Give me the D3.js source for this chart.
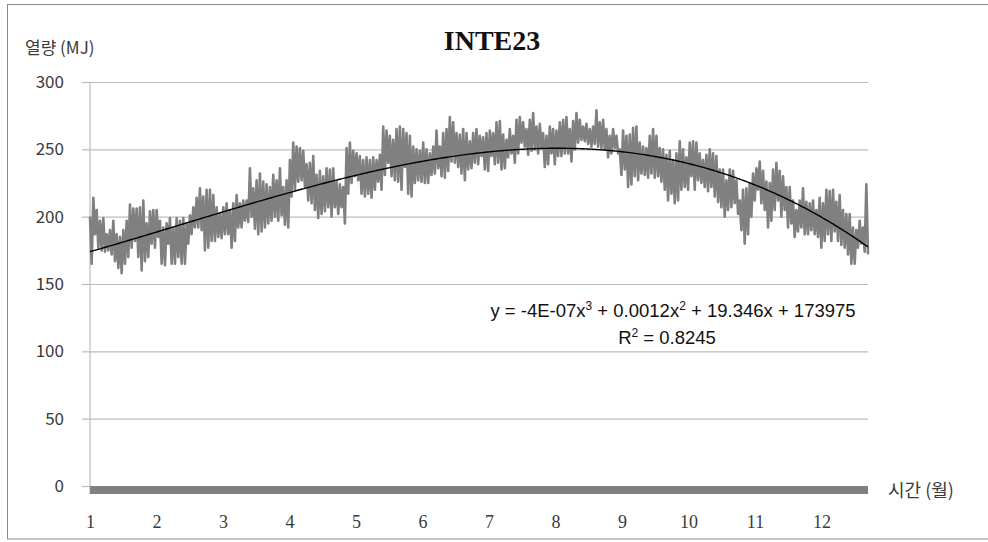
<!DOCTYPE html>
<html>
<head>
<meta charset="utf-8">
<script src="https://cdn.jsdelivr.net/npm/d3@7"></script>
<style>
  html, body { margin: 0; padding: 0; background: #fff; }
  svg { display: block; }
</style>
</head>
<body>
<svg id="chart" width="988" height="542"></svg>
<script>
// ---- chart text ----
const chartTitle = "INTE23";
const yAxisTitle = "열량 (MJ)";
const xAxisTitle = "시간 (월)";

// ---- axes ----
const monthLabels = [1, 2, 3, 4, 5, 6, 7, 8, 9, 10, 11, 12];
const yTickValues = [0, 50, 100, 150, 200, 250, 300];
const hoursPerMonth = 730;     // one month label every 730 hourly records
const spanHours = 8540;        // length of the hourly record

// ---- hourly heat (MJ): successive peak / trough pairs along the year ----
const heatHigh = [
  200,214,205,197,199,187,190,197,187,185,190,197,209,206,206,207,212,195,204,205,
  205,197,192,195,199,192,199,197,199,195,201,207,214,221,215,220,220,216,207,202,
  207,210,205,210,216,210,212,
  212,236,221,227,232,226,224,222,231,227,236,222,227,242,255,252,251,249,239,240,
  245,231,234,230,236,235,236,226,224,222,251,255,249,247,245,242,244,242,244,242,
  246,267,264,260,257,265,267,265,
  262,260,252,250,249,255,250,247,252,264,252,262,265,274,270,262,261,265,262,256,
  262,265,260,259,262,264,262,270,271,261,257,265,260,272,274,270,265,272,277,267,
  269,262,260,267,265,264,270,272,
  274,265,271,277,272,267,269,265,267,279,270,272,265,260,265,260,250,264,260,261,
  266,267,255,252,251,260,265,260,251,250,246,249,242,247,256,250,244,255,256,255,
  247,242,246,250,247,245,235,235,
  227,235,234,227,212,220,221,225,232,236,241,234,226,225,235,240,234,230,222,222,
  212,205,212,221,211,210,212,205,214,210,220,219,220,211,216,205,202,202,192,190,
  197,192,224
];
const heatLow = [
  165,187,177,175,174,175,172,167,162,158,165,170,177,182,170,160,167,170,180,177,
  185,165,164,180,165,165,170,165,165,180,187,192,192,190,175,177,182,182,185,184,
  187,187,177,182,192,192,197,
  196,200,191,187,189,192,195,197,200,197,201,194,192,215,220,226,227,222,212,210,
  205,199,202,204,207,200,207,202,207,195,217,225,230,227,217,215,217,214,220,226,
  220,231,240,230,227,226,220,237,
  217,215,225,227,226,225,225,231,232,236,230,229,234,241,240,237,232,227,235,236,
  240,239,245,235,234,245,239,240,235,236,244,247,240,247,255,252,246,249,250,247,
  251,237,239,247,239,245,245,247,
  247,241,250,255,257,256,254,252,254,252,251,250,244,247,251,247,231,235,222,224,
  230,227,232,231,229,232,229,230,226,220,212,217,210,212,220,222,220,230,220,227,
  225,222,219,222,215,211,207,200,
  205,207,210,202,190,180,187,200,212,220,210,205,192,197,205,212,200,205,192,195,
  185,189,192,187,187,190,187,185,177,182,187,182,189,182,179,177,172,165,165,177,
  180,174,172
];

// ---- polynomial trend (kJ against hour index) ----
const trendCoef = [-4e-7, 0.0012, 19.346, 173975];   // x^3, x^2, x, constant
const trendR2 = 0.8245;
const kjPerMj = 1000;

// ---- layout ----
const W = 988, H = 542;
const plot = { left: 90, right: 868, top: 82, bottom: 486 };
const gridColor = "#bcbcbc";
const seriesColor = "#808080";
const labelColor = "#3a3a3a";

const svg = d3.select("#chart");
const x = d3.scaleLinear().domain([0, spanHours]).range([plot.left, plot.right]);
const y = d3.scaleLinear().domain([0, 300]).range([plot.bottom, plot.top]);

svg.append("rect").attr("width", W).attr("height", H).attr("fill", "#fff");
svg.append("rect")
  .attr("x", 7.5).attr("y", 4.5).attr("width", 990).attr("height", 534.5)
  .attr("fill", "none").attr("stroke", "#8a8a8a").attr("stroke-width", 1);

// horizontal gridlines
const grid = svg.append("g")
  .attr("transform", `translate(${plot.left},0)`)
  .call(d3.axisLeft(y).tickValues(yTickValues.filter(v => v > 0))
    .tickSize(-(plot.right - plot.left)).tickFormat(""));
grid.select(".domain").remove();
grid.selectAll("line").attr("stroke", gridColor).attr("stroke-width", 1.2);

// y axis with outward ticks
const yAxis = svg.append("g")
  .attr("transform", `translate(${plot.left},0)`)
  .call(d3.axisLeft(y).tickValues(yTickValues).tickSize(8).tickPadding(18));
yAxis.select(".domain").remove();
yAxis.selectAll("line").attr("stroke", gridColor).attr("stroke-width", 1.2);
yAxis.selectAll("text")
  .attr("fill", labelColor)
  .style("font-family", "'Noto Sans CJK KR', 'Noto Sans', sans-serif")
  .style("font-size", "17px");
svg.append("line")
  .attr("x1", plot.left).attr("x2", plot.left)
  .attr("y1", y(300)).attr("y2", plot.bottom + 8)
  .attr("stroke", gridColor).attr("stroke-width", 1.2);

// heavy baseline along zero
svg.append("rect")
  .attr("x", x(0)).attr("y", y(0))
  .attr("width", x(spanHours) - x(0)).attr("height", 8)
  .attr("fill", seriesColor);

// month labels
const xAxis = svg.append("g")
  .attr("transform", `translate(0,${plot.bottom + 8})`)
  .call(d3.axisBottom(x)
    .tickValues(monthLabels.map(m => (m - 1) * hoursPerMonth))
    .tickFormat((d, i) => monthLabels[i])
    .tickSize(0).tickPadding(21));
xAxis.select(".domain").remove();
xAxis.selectAll("text")
  .attr("fill", labelColor)
  .style("font-family", "'Liberation Serif', 'DejaVu Serif', serif")
  .style("font-size", "18px");

// hourly series: peak and trough pairs in sequence
const seriesPts = [];
heatHigh.forEach((h, i) => { seriesPts.push(h); seriesPts.push(heatLow[i]); });
const step = spanHours / (seriesPts.length - 1);
svg.append("path")
  .datum(seriesPts)
  .attr("fill", "none")
  .attr("stroke", seriesColor)
  .attr("stroke-width", 2.6)
  .attr("stroke-linejoin", "round")
  .attr("d", d3.line().x((d, i) => x(i * step)).y(d => y(d)));

// trend line
const poly = h => trendCoef[0] * h ** 3 + trendCoef[1] * h ** 2 + trendCoef[2] * h + trendCoef[3];
svg.append("path")
  .datum(d3.range(0, spanHours + 1, 20))
  .attr("fill", "none")
  .attr("stroke", "#000")
  .attr("stroke-width", 1.4)
  .attr("d", d3.line().x(h => x(h)).y(h => y(poly(h) / kjPerMj)));

// equation and R²
function fmtCoef(c) {
  if (Math.abs(c) < 1e-4) {
    const [m, e] = c.toExponential(0).split("e");
    const n = Math.abs(+e);
    return `${m}E${+e < 0 ? "-" : "+"}${n < 10 ? "0" + n : n}`;
  }
  return String(c);
}
const eqFont = "'Liberation Sans', 'Open Sans', sans-serif";
const eqSize = "18.5px", supSize = "12px";
const eq = svg.append("text")
  .attr("x", 673).attr("y", 317)
  .attr("text-anchor", "middle")
  .attr("fill", "#111")
  .style("font-family", eqFont).style("font-size", eqSize);
const sign = v => (v < 0 ? " - " : " + ");
eq.append("tspan").text(`y = ${fmtCoef(trendCoef[0])}x`);
eq.append("tspan").attr("dy", -7).style("font-size", supSize).text("3");
eq.append("tspan").attr("dy", 7).text(`${sign(trendCoef[1])}${fmtCoef(Math.abs(trendCoef[1]))}x`);
eq.append("tspan").attr("dy", -7).style("font-size", supSize).text("2");
eq.append("tspan").attr("dy", 7)
  .text(`${sign(trendCoef[2])}${Math.abs(trendCoef[2])}x${sign(trendCoef[3])}${Math.abs(trendCoef[3])}`);

const r2 = svg.append("text")
  .attr("x", 667).attr("y", 344)
  .attr("text-anchor", "middle")
  .attr("fill", "#111")
  .style("font-family", eqFont).style("font-size", eqSize);
r2.append("tspan").text("R");
r2.append("tspan").attr("dy", -7).style("font-size", supSize).text("2");
r2.append("tspan").attr("dy", 7).text(` = ${trendR2}`);

// titles
svg.append("text")
  .attr("x", 492).attr("y", 50)
  .attr("text-anchor", "middle")
  .attr("fill", "#111")
  .style("font-family", "'Liberation Serif', 'DejaVu Serif', serif")
  .style("font-size", "28px").style("font-weight", "bold")
  .text(chartTitle);

svg.append("text")
  .attr("x", 25).attr("y", 54)
  .attr("fill", labelColor)
  .style("font-family", "'Noto Sans CJK KR', sans-serif")
  .style("font-size", "17px")
  .text(yAxisTitle);

svg.append("text")
  .attr("x", 888).attr("y", 497)
  .attr("fill", labelColor)
  .style("font-family", "'Noto Sans CJK KR', sans-serif")
  .style("font-size", "18px")
  .text(xAxisTitle);
</script>
</body>
</html>
